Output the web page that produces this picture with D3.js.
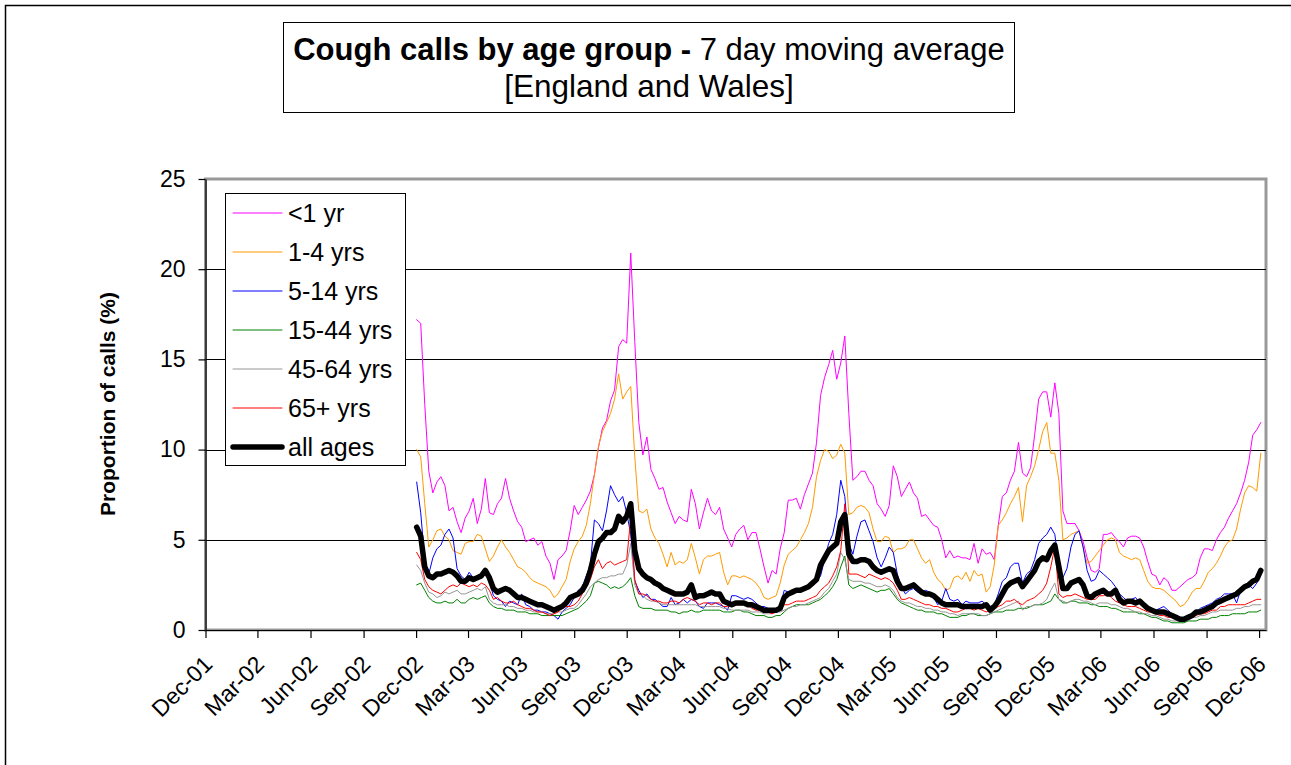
<!DOCTYPE html>
<html>
<head>
<meta charset="utf-8">
<script src="https://cdn.jsdelivr.net/npm/d3@7"></script>
<style>
body { margin: 0; background: #fff; }
text { font-family: Arial, "Liberation Sans", sans-serif; fill: #000; }
</style>
</head>
<body>
<svg id="chart" width="1291" height="765"></svg>
<script>
// weekly points of the 7 day moving average, first one on 2 Dec 2002
var startDate = new Date(2002, 11, 2);

var lt1 = [
17.2,17.0,12.5,8.8,7.6,8.2,8.5,8.0,6.6,6.8,
6.0,5.4,6.2,6.6,7.3,5.9,6.7,8.4,6.5,6.4,
7.0,7.3,8.4,7.3,6.6,6.0,5.7,4.9,5.0,5.1,
4.7,4.9,4.1,3.7,2.8,3.9,4.1,4.4,5.5,6.9,
6.4,6.8,7.2,7.7,8.6,10.1,11.2,11.6,12.7,13.3,
15.7,16.1,15.9,20.9,16.0,11.5,9.7,10.7,8.9,8.4,
7.8,7.9,7.1,6.5,5.9,6.3,6.1,6.0,7.8,7.0,
5.6,6.5,7.3,6.6,6.4,6.8,5.6,5.1,4.6,5.3,
5.6,5.8,5.0,5.4,5.4,4.5,3.5,2.6,3.3,3.1,
4.5,5.4,7.2,7.2,7.3,6.7,7.5,8.1,8.7,10.4,
13.0,14.0,14.7,15.5,13.9,14.8,16.3,12.0,8.3,8.5,
8.8,8.8,8.3,8.0,7.0,6.7,6.3,6.9,9.1,8.5,
7.4,7.8,8.2,7.6,7.3,6.3,6.4,6.1,5.8,5.7,
5.0,4.0,4.4,4.0,4.1,4.0,4.0,3.9,4.8,3.7,
4.5,4.2,4.3,3.9,5.8,7.4,7.6,8.3,8.8,10.4,
8.7,8.5,9.0,10.8,12.8,13.2,13.2,11.8,13.7,12.0,
6.6,5.9,5.9,5.9,5.5,4.9,4.0,3.3,3.2,3.4,
5.3,5.3,5.4,5.1,4.9,4.6,5.1,5.2,5.2,5.1,
4.6,3.8,3.1,3.0,2.5,2.9,2.7,2.2,2.2,2.4,
2.6,2.8,2.9,3.1,4.0,4.5,4.5,4.4,5.0,5.4,
5.7,6.2,6.6,7.0,7.6,8.3,9.3,10.8,11.1,11.5
];

var y1to4 = [
10.0,9.6,7.0,4.6,5.0,5.5,5.6,5.2,5.0,4.4,
4.3,4.2,4.8,4.9,4.9,5.3,5.2,4.5,3.8,4.1,
4.6,5.0,4.6,4.3,3.9,3.5,3.4,3.2,2.9,2.7,
2.6,2.5,2.4,2.2,1.8,2.0,2.4,2.8,3.8,4.5,
4.9,5.2,5.8,7.0,8.6,10.2,11.0,11.5,12.0,12.8,
14.2,12.8,13.2,13.5,9.6,6.6,6.5,6.7,5.6,5.1,
4.8,4.2,3.5,4.3,3.6,3.8,3.7,3.9,4.8,4.0,
3.1,3.9,4.1,4.1,4.2,4.3,3.2,2.5,3.0,3.0,
2.9,3.0,2.9,2.8,2.6,2.3,1.8,1.7,1.8,1.9,
2.6,3.6,4.2,4.4,4.6,5.0,5.4,5.9,6.8,8.5,
9.4,10.0,9.9,9.5,9.7,10.3,9.8,6.4,6.5,6.8,
6.9,6.8,6.5,5.6,4.9,4.9,5.2,5.1,4.3,4.5,
4.5,4.6,5.0,5.0,4.5,4.0,3.7,3.9,3.2,2.8,
2.6,2.2,2.3,2.9,3.0,2.8,3.2,2.7,3.3,3.0,
3.1,2.1,2.4,3.6,5.8,6.1,6.5,7.0,7.4,7.9,
6.0,8.0,8.5,9.1,10.0,11.0,11.5,9.8,9.8,8.3,
5.0,5.1,5.3,5.4,5.5,4.6,3.7,3.8,4.1,4.4,
4.7,5.0,5.1,5.0,4.3,4.1,4.0,3.9,4.0,3.9,
3.3,2.7,2.4,2.3,2.3,2.2,2.0,1.8,1.6,1.3,
1.4,1.7,2.1,2.3,2.3,2.7,3.2,3.4,3.7,4.1,
4.6,4.9,5.0,5.6,6.7,7.6,8.0,7.9,7.7,9.8
];

var y5to14 = [
8.2,6.5,3.9,3.1,4.0,4.5,4.7,5.3,5.6,5.1,
3.4,3.0,2.8,3.2,2.9,3.0,3.1,3.3,2.7,1.9,
1.7,1.6,1.3,1.6,1.5,1.4,2.0,1.4,1.3,1.1,
1.1,1.0,1.0,0.9,0.8,0.6,1.0,1.2,1.4,1.8,
2.2,2.4,3.0,3.6,6.1,5.9,5.5,6.6,8.0,7.5,
7.1,7.4,6.5,5.3,2.7,2.2,1.8,2.0,1.7,1.7,
1.5,1.3,1.3,1.8,1.4,1.5,1.7,1.5,1.7,1.6,
1.3,1.2,1.5,1.5,1.5,1.4,1.3,1.1,1.9,1.9,
1.8,1.7,1.8,1.7,1.5,1.3,1.3,1.2,1.1,1.1,
1.3,2.2,2.1,2.1,2.2,2.3,2.4,2.5,2.6,2.7,
3.0,3.9,4.8,5.3,6.4,8.3,7.4,4.8,4.2,5.2,
6.0,6.1,5.5,4.9,4.0,3.5,4.0,4.6,4.3,3.1,
2.4,2.0,2.2,2.3,2.1,2.1,2.2,2.1,1.8,1.4,
1.6,2.3,1.7,1.6,1.7,1.4,1.6,1.5,1.5,1.5,
1.6,1.4,1.3,1.4,2.0,2.7,2.9,3.5,3.7,3.7,
2.6,3.1,3.3,3.9,4.8,5.1,5.3,5.7,5.3,3.6,
2.9,3.4,4.6,5.3,5.5,4.6,3.3,2.7,2.8,3.3,
3.1,2.9,2.7,2.4,2.0,1.8,1.6,1.7,1.8,1.5,
1.4,1.3,1.2,1.1,1.2,1.3,1.1,0.9,0.7,0.6,
0.7,0.7,0.9,1.0,1.2,1.3,1.4,1.5,1.7,1.8,
2.0,2.0,2.0,1.5,2.2,2.5,2.5,2.3,2.6,3.1
];

var y15to44 = [
2.5,2.6,2.2,1.8,1.6,1.5,1.5,1.6,1.5,1.5,
1.7,1.5,1.5,1.7,1.8,1.7,1.8,1.9,1.5,1.3,
1.2,1.2,1.1,1.1,1.1,1.0,1.0,1.0,0.9,0.9,
0.9,0.8,0.8,0.8,0.8,0.8,0.8,0.9,1.0,1.1,
1.2,1.4,1.6,1.9,2.6,2.7,2.6,2.5,2.3,2.4,
2.3,2.4,2.6,2.9,1.9,1.3,1.2,1.2,1.2,1.1,
1.1,1.1,1.1,1.0,1.0,0.9,1.0,1.0,1.1,1.0,
1.0,1.1,1.1,1.1,1.1,1.1,1.0,1.0,1.0,1.1,
1.1,1.0,1.0,0.9,0.8,0.8,0.8,0.7,0.7,0.8,
0.8,1.0,1.2,1.3,1.4,1.4,1.4,1.4,1.5,1.6,
1.7,1.9,2.1,2.4,2.8,3.5,4.1,2.5,2.3,2.4,
2.5,2.4,2.3,2.2,2.1,2.2,2.2,2.3,2.0,1.7,
1.5,1.4,1.3,1.2,1.1,1.1,1.0,1.0,1.0,0.9,
0.9,0.8,0.7,0.7,0.7,0.8,0.8,0.9,0.9,0.8,
0.8,0.8,0.9,1.0,1.0,1.0,1.1,1.1,1.1,1.2,
1.2,1.2,1.3,1.4,1.4,1.4,1.5,1.6,2.0,1.7,
1.5,1.5,1.6,1.6,1.5,1.5,1.5,1.4,1.4,1.3,
1.3,1.3,1.2,1.2,1.1,1.0,1.0,1.0,1.0,0.9,
0.9,0.8,0.7,0.7,0.6,0.5,0.5,0.4,0.4,0.4,
0.4,0.5,0.5,0.5,0.6,0.6,0.6,0.7,0.7,0.8,
0.8,0.8,0.9,0.9,0.9,0.9,1.0,1.0,1.0,1.1
];

var y45to64 = [
3.6,3.3,2.6,2.1,2.0,1.8,1.9,2.1,2.0,2.1,
2.2,2.0,2.0,2.1,2.2,2.3,2.2,2.4,1.7,1.5,
1.4,1.4,1.4,1.3,1.3,1.2,1.2,1.1,1.1,1.0,
1.0,1.0,0.9,0.9,0.9,1.0,1.0,1.1,1.2,1.2,
1.4,1.7,2.0,2.4,2.6,2.8,2.9,2.9,3.0,3.0,
3.1,3.1,3.6,4.8,2.5,2.0,1.9,1.7,1.6,1.6,
1.5,1.4,1.4,1.4,1.4,1.4,1.4,1.4,1.4,1.4,
1.3,1.3,1.3,1.3,1.3,1.3,1.2,1.2,1.1,1.1,
1.1,1.1,1.1,1.0,1.0,1.0,0.9,0.9,0.9,1.0,
1.0,1.1,1.2,1.3,1.3,1.4,1.4,1.5,1.6,1.7,
1.8,2.1,2.3,2.7,3.1,4.3,3.9,2.8,2.7,2.7,
2.7,2.6,2.6,2.5,2.4,2.4,2.5,2.4,2.2,1.8,
1.6,1.5,1.5,1.4,1.3,1.3,1.2,1.2,1.1,1.1,
1.0,1.0,0.9,0.9,0.8,0.9,0.9,0.9,0.9,0.9,
0.8,0.8,0.9,1.0,1.1,1.2,1.3,1.4,1.5,1.6,
1.1,1.3,1.3,1.4,1.4,1.5,1.7,2.2,2.6,1.7,
1.6,1.5,1.6,1.7,1.7,1.6,1.6,1.5,1.4,1.5,
1.5,1.5,1.4,1.4,1.3,1.2,1.2,1.1,1.0,1.0,
0.9,0.9,0.8,0.8,0.7,0.6,0.6,0.5,0.5,0.5,
0.5,0.6,0.7,0.7,0.8,0.8,0.9,1.0,1.0,1.1,
1.1,1.1,1.1,1.2,1.2,1.3,1.3,1.4,1.4,1.4
];

var y65plus = [
4.3,3.9,2.8,2.4,2.2,2.1,2.0,2.2,2.4,2.5,
2.4,2.6,2.5,2.4,2.5,2.4,2.6,2.5,2.2,1.7,
1.8,1.6,1.5,1.5,1.6,1.4,1.3,1.2,1.2,1.1,
1.0,1.0,0.9,0.8,0.9,1.0,1.2,1.3,1.3,1.4,
1.6,2.0,2.4,2.8,3.5,3.9,3.4,3.7,3.8,3.6,
3.7,3.8,3.9,6.2,2.8,2.0,2.0,1.9,1.7,1.6,
1.6,1.5,1.5,1.6,1.6,1.5,1.7,1.8,1.7,1.6,
1.4,1.5,1.5,1.4,1.5,1.5,1.3,1.3,1.4,1.4,
1.4,1.4,1.4,1.2,1.1,1.1,1.0,1.0,0.9,1.0,
1.1,1.4,1.4,1.5,1.6,1.6,1.6,1.7,1.8,1.9,
2.2,2.4,2.6,3.0,3.5,4.4,7.0,3.1,3.1,3.1,
3.0,2.9,3.1,3.0,2.9,2.8,2.9,2.8,2.6,2.2,
1.7,1.7,1.8,1.7,1.6,1.5,1.4,1.4,1.3,1.3,
1.2,1.2,1.1,1.0,1.0,1.1,1.2,1.2,1.1,1.2,
1.1,1.0,1.1,1.2,1.3,1.4,1.6,1.6,1.7,1.5,
1.4,1.6,1.7,1.8,2.0,2.2,2.6,3.5,4.6,2.0,
1.8,1.9,1.9,2.0,1.9,1.8,1.7,1.7,1.7,1.9,
1.9,2.0,1.8,1.6,1.5,1.4,1.3,1.3,1.3,1.2,
1.1,1.0,1.0,0.9,0.8,0.8,0.7,0.7,0.6,0.6,
0.6,0.7,0.7,0.8,0.9,0.9,1.0,1.1,1.1,1.3,
1.3,1.4,1.4,1.4,1.4,1.4,1.5,1.6,1.7,1.7
];

var allAges = [
5.7,5.2,3.5,3.0,2.9,3.1,3.1,3.2,3.3,3.2,
3.0,2.7,2.7,2.9,2.8,2.9,3.0,3.3,2.9,2.3,
2.1,2.2,2.3,2.2,2.0,1.8,1.8,1.7,1.6,1.5,
1.4,1.4,1.3,1.2,1.1,1.2,1.3,1.5,1.8,1.9,
2.0,2.2,2.6,3.3,4.2,4.9,5.1,5.4,5.4,5.6,
6.3,6.0,6.3,7.0,4.4,3.4,3.1,2.9,2.8,2.6,
2.5,2.3,2.2,2.1,2.0,2.0,2.0,2.1,2.5,1.8,
1.9,1.9,2.0,2.1,2.0,2.0,1.6,1.5,1.4,1.5,
1.5,1.5,1.4,1.4,1.3,1.2,1.1,1.1,1.1,1.1,
1.2,1.8,2.0,2.1,2.2,2.2,2.3,2.4,2.6,2.8,
3.6,4.0,4.4,4.6,4.8,6.0,6.4,4.2,3.8,3.8,
3.9,3.9,3.8,3.5,3.3,3.2,3.3,3.4,3.3,2.7,
2.3,2.3,2.4,2.5,2.3,2.1,2.0,2.0,1.9,1.7,
1.5,1.4,1.4,1.4,1.4,1.3,1.3,1.3,1.3,1.3,
1.3,1.4,1.1,1.3,1.6,2.0,2.4,2.6,2.7,2.8,
2.4,2.7,3.0,3.3,3.8,4.0,3.9,4.4,4.7,3.5,
2.3,2.3,2.6,2.7,2.8,2.5,1.9,1.8,2.0,2.1,
2.2,2.0,2.0,2.2,1.7,1.5,1.6,1.6,1.5,1.6,
1.4,1.2,1.1,1.0,1.0,1.0,0.9,0.8,0.7,0.6,
0.6,0.7,0.8,1.0,1.0,1.1,1.2,1.3,1.5,1.6,
1.7,1.8,1.9,2.0,2.2,2.4,2.5,2.7,2.8,3.3
];

var seriesNames = ["<1 yr", "1-4 yrs", "5-14 yrs", "15-44 yrs", "45-64 yrs", "65+ yrs", "all ages"];
var yTicks = [0, 5, 10, 15, 20, 25];
var gridValues = [5, 10, 15, 20];

var weeks = lt1.map(function(d, i) { return d3.timeDay.offset(startDate, 7 * i); });
// quarterly ticks Dec-01 .. Dec-06
var xTicks = d3.range(21).map(function(k) { return new Date(2001, 11 + 3 * k, 1); });

var series = [
    {name: seriesNames[0], values: lt1, color: "#ff00ff", width: 1},
    {name: seriesNames[1], values: y1to4, color: "#ff9900", width: 1},
    {name: seriesNames[2], values: y5to14, color: "#0000ff", width: 1},
    {name: seriesNames[3], values: y15to44, color: "#008000", width: 1},
    {name: seriesNames[4], values: y45to64, color: "#969696", width: 1},
    {name: seriesNames[5], values: y65plus, color: "#ff0000", width: 1},
    {name: seriesNames[6], values: allAges, color: "#000000", width: 5.5}
];

var plot = {left: 205.5, top: 179, right: 1266, bottom: 630};

var svg = d3.select("#chart");

// outer frame of the chart
svg.append("rect").attr("x", 5.5).attr("y", 5.5).attr("width", 1300).attr("height", 800)
    .attr("fill", "#fff").attr("stroke", "#000").attr("stroke-width", 1.5);

// title box
svg.append("rect").attr("x", 283.5).attr("y", 22.5).attr("width", 731).attr("height", 90)
    .attr("fill", "#fff").attr("stroke", "#000").attr("stroke-width", 1);
var t1 = svg.append("text").attr("x", 649).attr("y", 60).attr("text-anchor", "middle").style("font-size", "31px");
t1.append("tspan").style("font-weight", "bold").text("Cough calls by age group - ");
t1.append("tspan").text("7 day moving average");
svg.append("text").attr("x", 649).attr("y", 97).attr("text-anchor", "middle").style("font-size", "31.5px")
    .text("[England and Wales]");

var x = d3.scaleTime().domain([new Date(2001, 11, 1), new Date(2006, 11, 13)]).range([plot.left, plot.right]);
var y = d3.scaleLinear().domain([0, 25]).range([plot.bottom, plot.top]);

// plot area border (grey top / right)
svg.append("rect").attr("x", plot.left).attr("y", plot.top)
    .attr("width", plot.right - plot.left).attr("height", plot.bottom - plot.top)
    .attr("fill", "none").attr("stroke", "#999").attr("stroke-width", 3);

svg.append("g").selectAll("line").data(gridValues).enter().append("line")
    .attr("x1", plot.left).attr("x2", plot.right)
    .attr("y1", function(d) { return Math.round(y(d)) + 0.5; })
    .attr("y2", function(d) { return Math.round(y(d)) + 0.5; })
    .attr("stroke", "#000").attr("stroke-width", 1);

var yAxis = svg.append("g").attr("transform", "translate(" + plot.left + ",0)")
    .call(d3.axisLeft(y).tickValues(yTicks).tickSize(7).tickPadding(13).tickSizeOuter(0));
yAxis.selectAll("text").style("font-size", "23px");

var xAxis = svg.append("g").attr("transform", "translate(0," + plot.bottom + ")")
    .call(d3.axisBottom(x).tickValues(xTicks).tickFormat(d3.timeFormat("%b-%y")).tickSize(8).tickSizeOuter(0));
xAxis.selectAll("text").style("font-size", "23px")
    .attr("text-anchor", "end").attr("x", 0).attr("y", 0).attr("dy", "0.35em")
    .attr("transform", "translate(2,30) rotate(-45)");

svg.selectAll(".domain, .tick line").attr("stroke", "#000").attr("stroke-width", 1.2);

svg.append("text")
    .attr("transform", "translate(115,404) rotate(-90)")
    .attr("text-anchor", "middle")
    .style("font-size", "21px").style("font-weight", "bold")
    .text("Proportion of calls (%)");

var line = d3.line()
    .x(function(d, i) { return x(weeks[i]); })
    .y(function(d) { return y(d); });

svg.append("g").selectAll("path").data(series).enter().append("path")
    .attr("d", function(s) { return line(s.values); })
    .attr("fill", "none")
    .attr("stroke", function(s) { return s.color; })
    .attr("stroke-width", function(s) { return s.width; })
    .attr("stroke-linejoin", "round")
    .attr("stroke-linecap", "round");

// legend
var legend = svg.append("g");
legend.append("rect").attr("x", 225.5).attr("y", 193.5).attr("width", 180).attr("height", 272)
    .attr("fill", "#fff").attr("stroke", "#000").attr("stroke-width", 1);
var rows = legend.selectAll("g.row").data(series).enter().append("g")
    .attr("class", "row")
    .attr("transform", function(s, i) { return "translate(0," + (213 + i * 39) + ")"; });
rows.append("line").attr("x1", 233).attr("x2", 282).attr("y1", 0).attr("y2", 0)
    .attr("stroke", function(s) { return s.color; })
    .attr("stroke-width", function(s) { return s.width; })
    .attr("stroke-linecap", "round");
rows.append("text").attr("x", 288).attr("y", 0).attr("dy", "0.35em")
    .style("font-size", "25px")
    .text(function(s) { return s.name; });
</script>
</body>
</html>
